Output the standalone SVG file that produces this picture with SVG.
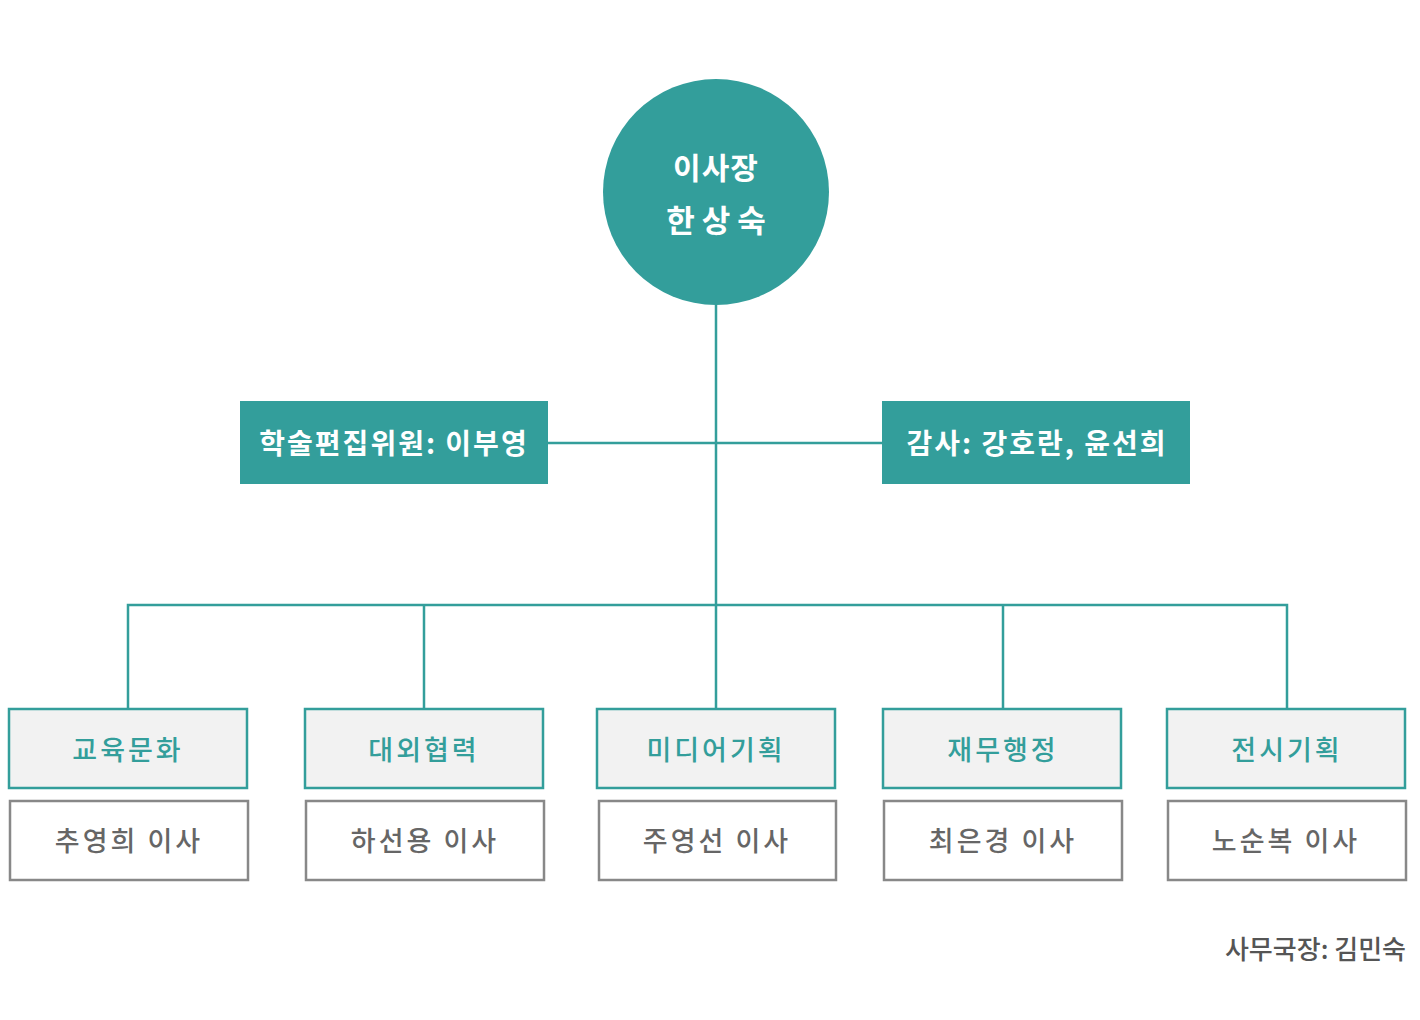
<svg xmlns="http://www.w3.org/2000/svg" width="1420" height="1020" viewBox="0 0 1420 1020">
<style>
text{font-family:"Noto Sans CJK KR","Noto Sans",sans-serif;text-anchor:middle;dominant-baseline:central}
.teal{fill:#339e9b}
.line{stroke:#339e9b;stroke-width:2.5;fill:none}
.dept rect{fill:#f2f2f2;stroke:#339e9b;stroke-width:2.5}
.dept text{fill:#339e9b;font-size:27px;font-weight:500;letter-spacing:3px}
.name rect{fill:#fff;stroke:#888;stroke-width:2.5}
.name text{fill:#666;font-size:27px;font-weight:500;letter-spacing:3px}
.side text{fill:#fff;font-size:28px;font-weight:700;letter-spacing:2px}
</style>
<rect width="1420" height="1020" fill="#fff"/>
<g id="connectors" class="line">
<line x1="716" y1="300" x2="716" y2="708"/>
<line x1="548" y1="443" x2="882" y2="443"/>
<polyline points="128,708 128,605 1287,605 1287,708"/>
<line x1="424" y1="605" x2="424" y2="708"/>
<line x1="1003" y1="605" x2="1003" y2="708"/>
</g>
<g id="chairman">
<circle cx="716" cy="192" r="113" class="teal"/>
<text x="716" y="166" fill="#fff" font-size="30" font-weight="700" letter-spacing="1">이사장</text>
<text x="716" y="218" fill="#fff" font-size="31" font-weight="700">한 상 숙</text>
</g>
<g id="editorial" class="side">
<rect x="240" y="401" width="308" height="83" class="teal"/>
<text x="394" y="442">학술편집위원: 이부영</text>
</g>
<g id="audit" class="side">
<rect x="882" y="401" width="308" height="83" class="teal"/>
<text x="1037" y="442">감사: 강호란, 윤선희</text>
</g>
<g id="dept1" class="dept"><rect x="9" y="709" width="238" height="79"/><text x="128" y="748">교육문화</text></g>
<g id="dept2" class="dept"><rect x="305" y="709" width="238" height="79"/><text x="424" y="748">대외협력</text></g>
<g id="dept3" class="dept"><rect x="597" y="709" width="238" height="79"/><text x="716" y="748">미디어기획</text></g>
<g id="dept4" class="dept"><rect x="883" y="709" width="238" height="79"/><text x="1003" y="748">재무행정</text></g>
<g id="dept5" class="dept"><rect x="1167" y="709" width="238" height="79"/><text x="1287" y="748">전시기획</text></g>
<g id="name1" class="name"><rect x="10" y="801" width="238" height="79"/><text x="129" y="839">추영희 이사</text></g>
<g id="name2" class="name"><rect x="306" y="801" width="238" height="79"/><text x="425" y="839">하선용 이사</text></g>
<g id="name3" class="name"><rect x="599" y="801" width="237" height="79"/><text x="717" y="839">주영선 이사</text></g>
<g id="name4" class="name"><rect x="884" y="801" width="238" height="79"/><text x="1003" y="839">최은경 이사</text></g>
<g id="name5" class="name"><rect x="1168" y="801" width="238" height="79"/><text x="1286" y="839">노순복 이사</text></g>
<g id="secretary"><text x="1406" y="947" fill="#555" font-size="26" font-weight="500" style="text-anchor:end">사무국장: 김민숙</text></g>
</svg>
